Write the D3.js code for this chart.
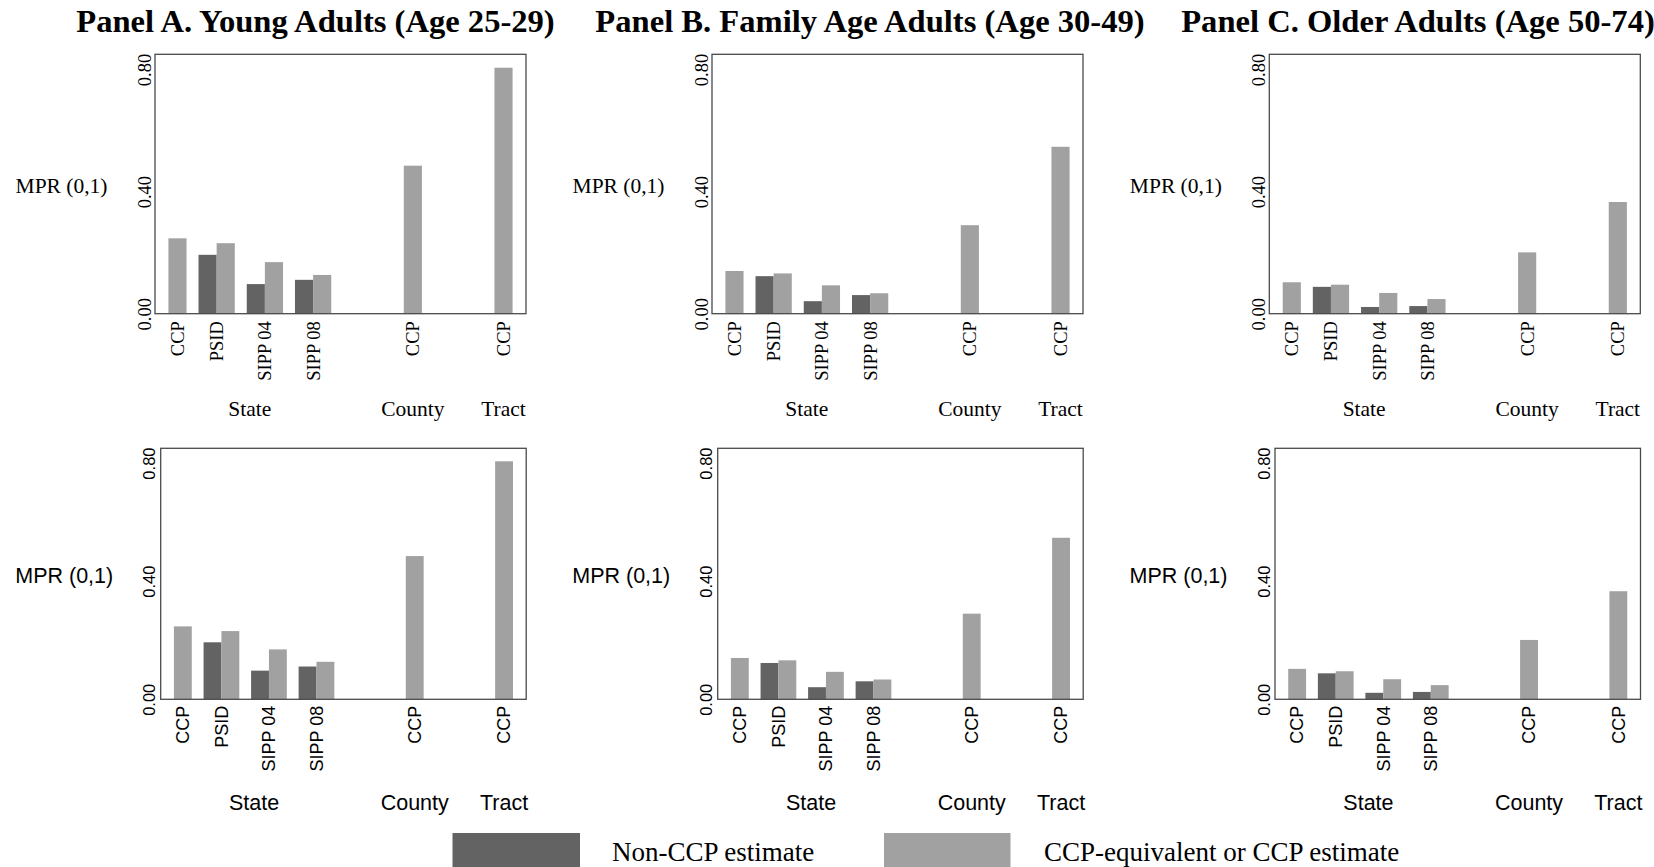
<!DOCTYPE html>
<html>
<head>
<meta charset="utf-8">
<script src="https://cdn.jsdelivr.net/npm/d3@7"></script>
<style>
  html, body { margin: 0; padding: 0; background: #ffffff; }
  svg { display: block; }
</style>
</head>
<body>
<svg id="chart" width="1654" height="867"></svg>
<script>
// ---- data ----
const levels  = ["State", "State", "State", "State", "County", "Tract"];
const sources = ["CCP", "PSID", "SIPP 04", "SIPP 08", "CCP", "CCP"];

const panelTitles = [
  "Panel A. Young Adults (Age 25-29)",
  "Panel B. Family Age Adults (Age 30-49)",
  "Panel C. Older Adults (Age 50-74)"
];

// Non-CCP estimates (null: no such estimate for that source / level)
const nonCcpA = [null, 0.193, 0.097, 0.111, null, null];
const nonCcpB = [null, 0.123, 0.041, 0.061, null, null];
const nonCcpC = [null, 0.088, 0.022, 0.025, null, null];

// CCP-equivalent or CCP estimates
const ccpA = [0.247, 0.231, 0.169, 0.127, 0.485, 0.806];
const ccpB = [0.140, 0.132, 0.093, 0.067, 0.290, 0.547];
const ccpC = [0.103, 0.095, 0.068, 0.048, 0.201, 0.366];

const yTicks = [0, 0.4, 0.8];
const yLabel = "MPR (0,1)";
const legendLabels = ["Non-CCP estimate", "CCP-equivalent or CCP estimate"];

const panelSeries = [
  { nonCcp: nonCcpA, ccp: ccpA },
  { nonCcp: nonCcpB, ccp: ccpB },
  { nonCcp: nonCcpC, ccp: ccpC }
];

// ---- styling / layout ----
const DARK = "#636363";
const LIGHT = "#a1a1a1";
const SERIF = "'Liberation Serif', 'Times New Roman', serif";
const SANS = "'Liberation Sans', Arial, Helvetica, sans-serif";

// bar layout in units of one bar width
const OUTER = 0.74, GAP = 0.66, GROUP_GAP = 4.0;

// two rendered rows of the same three panels (serif row, sans row)
const rows = [
  {
    font: SERIF, top: 54.3, bottom: 313.7,
    lefts: [155, 712, 1269.3], width: 371,
    yTickSize: 18.5, yTickGap: 4, xTickSize: 18.5, xTickGap: 7.5,
    groupSize: 21.5, groupBaseline: 416, mprSize: 21.5
  },
  {
    font: SANS, top: 448.3, bottom: 699.3,
    lefts: [160.7, 717.7, 1275], width: 365.5,
    yTickSize: 16.5, yTickGap: 5.5, xTickSize: 18, xTickGap: 6.5,
    groupSize: 21.5, groupBaseline: 810, mprSize: 21.5
  }
];

const svg = d3.select("#chart");

// titles
const titleCenters = [315.5, 870, 1418];
svg.selectAll("text.title")
  .data(panelTitles)
  .join("text")
  .attr("class", "title")
  .attr("x", (d, i) => titleCenters[i])
  .attr("y", 32)
  .attr("text-anchor", "middle")
  .style("font-family", SERIF)
  .style("font-weight", "bold")
  .style("font-size", "32.6px")
  .attr("fill", "#000")
  .text(d => d);

// unit positions of every bar, derived from the category structure
function layoutUnits(nonCcp) {
  let u = OUTER;
  const cats = [];
  levels.forEach((lvl, i) => {
    if (i > 0) u += (lvl !== levels[i - 1]) ? GROUP_GAP : GAP;
    const hasNon = nonCcp[i] !== null;
    const n = hasNon ? 2 : 1;
    cats.push({ i, level: lvl, source: sources[i], start: u, n, hasNon });
    u += n;
  });
  return { cats, total: u + OUTER };
}

function drawPanel(row, p) {
  const series = panelSeries[p];
  const left = row.lefts[p], right = left + row.width;
  const { cats, total } = layoutUnits(series.nonCcp);

  const x = d3.scaleLinear().domain([0, total]).range([left, right]);
  const y = d3.scaleLinear().domain([0, 0.85]).range([row.bottom, row.top]);
  const bw = x(1) - x(0);

  const g = svg.append("g");

  // bars
  const bars = [];
  cats.forEach(c => {
    let u = c.start;
    if (c.hasNon) {
      bars.push({ u, v: series.nonCcp[c.i], color: DARK });
      u += 1;
    }
    bars.push({ u, v: series.ccp[c.i], color: LIGHT });
  });
  g.selectAll("rect.bar")
    .data(bars)
    .join("rect")
    .attr("class", "bar")
    .attr("x", d => x(d.u))
    .attr("width", bw)
    .attr("y", d => y(d.v))
    .attr("height", d => y(0) - y(d.v))
    .attr("fill", d => d.color);

  // frame
  g.append("rect")
    .attr("x", left).attr("y", row.top)
    .attr("width", row.width).attr("height", row.bottom - row.top)
    .attr("fill", "none")
    .attr("stroke", "#4a4a4a")
    .attr("stroke-width", 1.3);

  // y tick labels (rotated)
  const yAxis = d3.axisLeft(y).tickValues(yTicks).tickFormat(d3.format(".2f")).tickSize(0);
  const ya = g.append("g").attr("transform", `translate(${left},0)`).call(yAxis);
  ya.select(".domain").remove();
  ya.selectAll(".tick text")
    .attr("x", null).attr("dy", null)
    .attr("text-anchor", "middle")
    .attr("transform", `translate(${-row.yTickGap},0) rotate(-90)`)
    .style("font-family", row.font)
    .style("font-size", row.yTickSize + "px")
    .attr("fill", "#000");

  // x tick labels: source names, rotated
  g.selectAll("text.src")
    .data(cats)
    .join("text")
    .attr("class", "src")
    .attr("transform", c => `translate(${x(c.start + c.n / 2)},${row.bottom + row.xTickGap}) rotate(-90)`)
    .attr("text-anchor", "end")
    .attr("dy", "0.35em")
    .style("font-family", row.font)
    .style("font-size", row.xTickSize + "px")
    .attr("fill", "#000")
    .text(c => c.source);

  // group labels: State / County / Tract
  const groups = d3.groups(cats, c => c.level).map(([lvl, cs]) => ({
    level: lvl,
    center: (x(cs[0].start) + x(cs[cs.length - 1].start + cs[cs.length - 1].n)) / 2
  }));
  g.selectAll("text.grp")
    .data(groups)
    .join("text")
    .attr("class", "grp")
    .attr("x", d => d.center)
    .attr("y", row.groupBaseline)
    .attr("text-anchor", "middle")
    .style("font-family", row.font)
    .style("font-size", row.groupSize + "px")
    .attr("fill", "#000")
    .text(d => d.level);

  // y title
  g.append("text")
    .attr("x", left - 47.5)
    .attr("y", (row.top + row.bottom) / 2 + 2)
    .attr("text-anchor", "end")
    .attr("dominant-baseline", "central")
    .style("font-family", row.font)
    .style("font-size", row.mprSize + "px")
    .attr("fill", "#000")
    .text(yLabel);
}

rows.forEach(row => [0, 1, 2].forEach(p => drawPanel(row, p)));

// legend
const legendItems = [
  { label: legendLabels[0], color: DARK, box: [452.5, 580], tx: 612 },
  { label: legendLabels[1], color: LIGHT, box: [884, 1010.5], tx: 1044 }
];
const lg = svg.append("g");
lg.selectAll("rect")
  .data(legendItems)
  .join("rect")
  .attr("x", d => d.box[0])
  .attr("width", d => d.box[1] - d.box[0])
  .attr("y", 833)
  .attr("height", 40)
  .attr("fill", d => d.color);
lg.selectAll("text")
  .data(legendItems)
  .join("text")
  .attr("x", d => d.tx)
  .attr("y", 861)
  .style("font-family", SERIF)
  .style("font-size", "27px")
  .attr("fill", "#000")
  .text(d => d.label);
</script>
</body>
</html>
